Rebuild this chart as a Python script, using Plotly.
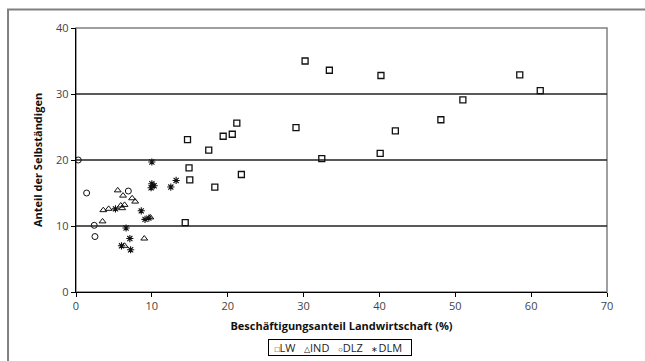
import plotly.graph_objects as go

# LW (Landwirtschaft)
lw_x = [30.2, 33.4, 40.2, 58.5, 61.2, 51.0, 48.1, 42.1, 40.1, 32.4, 29.0, 21.2, 20.6, 19.4, 17.5, 14.7, 14.9, 15.0, 18.3, 21.8, 14.4]
lw_y = [35.0, 33.6, 32.8, 32.9, 30.5, 29.1, 26.1, 24.4, 21.0, 20.2, 24.9, 25.6, 23.9, 23.6, 21.5, 23.1, 18.8, 17.0, 15.9, 17.8, 10.5]

# IND
ind_x = [5.5, 6.2, 7.4, 7.8, 3.6, 4.3, 5.9, 6.4, 6.1, 3.5, 9.0, 6.4, 9.8]
ind_y = [15.4, 14.6, 14.2, 13.7, 12.4, 12.6, 13.1, 13.2, 12.7, 10.7, 8.1, 7.0, 11.3]

# DLZ
dlz_x = [0.3, 1.4, 2.4, 2.5, 6.9]
dlz_y = [20.0, 15.0, 10.1, 8.4, 15.3]

# DLM
dlm_x = [10.0, 10.0, 10.3, 9.9, 12.5, 13.2, 8.6, 9.1, 9.6, 5.2, 6.6, 7.1, 6.0, 7.2]
dlm_y = [19.7, 16.4, 16.1, 15.8, 15.9, 16.9, 12.3, 11.0, 11.2, 12.6, 9.7, 8.1, 7.0, 6.4]

series_names = ["LW", "IND", "DLZ", "DLM"]
legend_glyphs = ["□", "△", "○", "∗"]

x_ticks = [0, 10, 20, 30, 40, 50, 60, 70]
y_ticks = [0, 10, 20, 30, 40]
grid_y = [10, 20, 30]

FONT = "Open Sans"
INK = "#111"
NB = "\u00a0"

fig = go.Figure()
fig.add_trace(go.Scatter(x=lw_x, y=lw_y, mode="markers", name=series_names[0],
                         marker=dict(symbol="square-open", size=6, color=INK,
                                     line=dict(width=1.3, color=INK))))
fig.add_trace(go.Scatter(x=ind_x, y=ind_y, mode="markers", name=series_names[1],
                         marker=dict(symbol="triangle-up-open", size=6, color=INK,
                                     line=dict(width=1, color=INK))))
fig.add_trace(go.Scatter(x=dlz_x, y=dlz_y, mode="markers", name=series_names[2],
                         marker=dict(symbol="circle-open", size=6, color=INK,
                                     line=dict(width=1, color=INK))))
fig.add_trace(go.Scatter(x=dlm_x, y=dlm_y, mode="markers", name=series_names[3],
                         marker=dict(symbol="asterisk-open", size=6, color=INK,
                                     line=dict(width=1.1, color=INK))))

shapes = []
# outer chart frame
shapes.append(dict(type="rect", xref="paper", yref="paper", x0=-0.128, x1=1.2, y0=-0.5, y1=1.07,
                   line=dict(color="#808080", width=2), layer="below"))
# plot area frame
shapes.append(dict(type="rect", xref="paper", yref="paper", x0=0, x1=1, y0=0, y1=1,
                   line=dict(color="#808080", width=1.5), layer="below"))
for g in grid_y:
    shapes.append(dict(type="line", xref="paper", yref="y", x0=0, x1=1, y0=g, y1=g,
                       line=dict(color="#222", width=1.3), layer="below"))

# compact legend box (as in the original chart)
legend_text = NB * 2 + (NB * 3).join(
    f'<span style="font-size:8px">{g}</span>{n}' for g, n in zip(legend_glyphs, series_names)
) + NB * 3
annotations = [dict(xref="paper", yref="paper", x=0.498, y=-0.212, xanchor="center", yanchor="middle",
                    text=legend_text, showarrow=False,
                    font=dict(family=FONT, size=11, color="#222"),
                    bordercolor="black", borderwidth=1, borderpad=0, bgcolor="white")]

fig.update_layout(
    width=645, height=361,
    margin=dict(l=76, r=38, t=28, b=69),
    paper_bgcolor="white", plot_bgcolor="white",
    font=dict(family=FONT, size=11, color="#333"),
    shapes=shapes,
    annotations=annotations,
    showlegend=False,
    xaxis=dict(range=[0, 70], tickvals=x_ticks, showgrid=False, zeroline=False,
               showline=True, linecolor="black", linewidth=1.3,
               ticks="outside", ticklen=4, tickcolor="black",
               tickfont=dict(size=11, color="#444"),
               title=dict(text="<b>Beschäftigungsanteil Landwirtschaft (%)</b>",
                          font=dict(size=11, color=INK), standoff=9)),
    yaxis=dict(range=[0, 40], tickvals=y_ticks, showgrid=False, zeroline=False,
               showline=True, linecolor="black", linewidth=1.3,
               ticks="outside", ticklen=4, tickcolor="black",
               tickfont=dict(size=11, color="#444"),
               title=dict(text="<b>Anteil der Selbständigen</b>",
                          font=dict(size=11, color=INK), standoff=11)),
)

fig.write_html("out.html")
